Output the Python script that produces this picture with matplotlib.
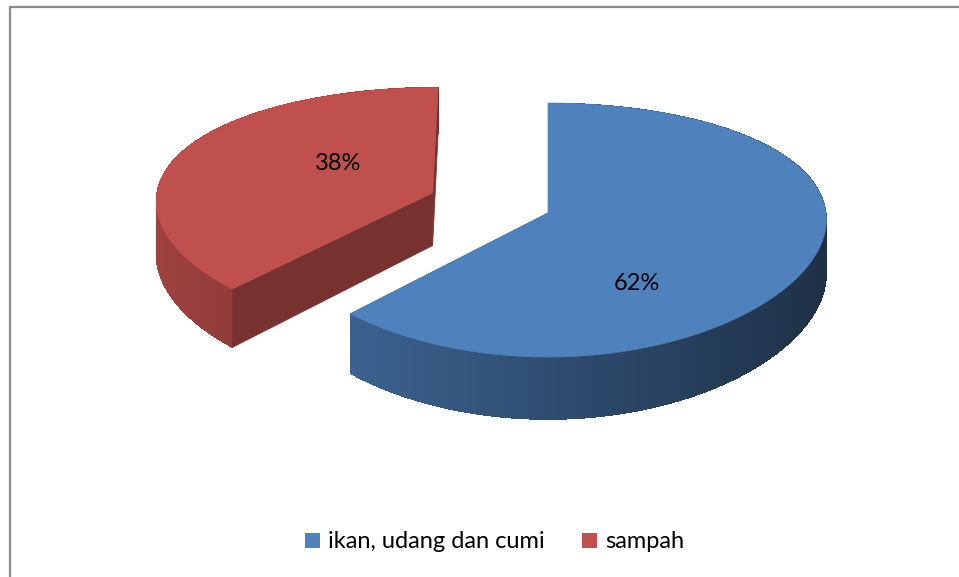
import numpy as np
import matplotlib.pyplot as plt
from matplotlib.patches import Polygon, Patch, Rectangle
from matplotlib.collections import PolyCollection
from matplotlib.colors import to_rgb

plt.rcParams['font.family'] = ['Lato', 'DejaVu Sans']

# data
labels = ['ikan, udang dan cumi', 'sampah']
values = [62, 38]
pct_text = ['62%', '38%']
colors = ['#4F81BD', '#C0504D']
explode = [0.0, 0.45]

W, H = 959, 577
fig = plt.figure(figsize=(W / 100, H / 100), dpi=100)
ax = fig.add_axes([0, 0, 1, 1])
ax.set_xlim(0, W)
ax.set_ylim(H, 0)
ax.axis('off')

# tilted disc with a little perspective
cx, cy = 548, 213
rx, ry = 278, 124.7
ky, kx = 0.134, 0.05
depth = 54
cam = np.array([0.0, -7.5])


def proj(X, Y, z=0.0):
    X = np.asarray(X, float)
    Y = np.asarray(Y, float)
    fx = 1 / (1 + kx * Y)
    fy = 1 / (1 + ky * Y)
    return np.column_stack([cx + rx * X * fx, cy - ry * Y * fy + z * depth * fy])


def shade(c, f):
    return tuple(np.clip(np.array(to_rgb(c)) * f, 0, 1))


def side_factor(t):
    return 0.6 + 0.23 * np.cos(t - np.pi)


total = float(sum(values))
start = 90.0
slices = []
for v in values:
    a2 = start
    a1 = start - v / total * 360
    slices.append((np.radians(a1), np.radians(a2)))
    start = a1

# back slice (exploded one) first
order = [1, 0]
for i in order:
    a1, a2 = slices[i]
    mid = (a1 + a2) / 2
    ex, ey = explode[i] * np.cos(mid), explode[i] * np.sin(mid)
    col = colors[i]
    t = np.linspace(a1, a2, 240)
    X = ex + np.cos(t)
    Y = ey + np.sin(t)
    top = proj(X, Y)
    bot = proj(X, Y, 1)
    vtop = proj([ex], [ey])[0]
    vbot = proj([ex], [ey], 1)[0]

    # cut faces
    faces = []
    for ang, nang, k in [(a1, a1 - np.pi / 2, 0), (a2, a2 + np.pi / 2, -1)]:
        n = np.array([np.cos(nang), np.sin(nang)])
        p = np.array([ex + 0.5 * np.cos(ang), ey + 0.5 * np.sin(ang)])
        vis = n @ (cam - p) > 0
        quad = np.array([vtop, top[k], bot[k], vbot])
        faces.append((vis, quad))
    for vis, quad in faces:
        if not vis:
            ax.add_patch(Polygon(quad, closed=True, fc=shade(col, 0.62),
                                 ec=shade(col, 0.62), lw=0.5))

    # outer wall: smooth outline first, then shaded strips without AA
    tm = (t[:-1] + t[1:]) / 2
    ax.add_patch(Polygon(np.vstack([top, bot[::-1]]), closed=True,
                         fc=shade(col, side_factor(tm).mean()), ec='none'))
    strips = [np.array([top[j], top[j + 1], bot[j + 1], bot[j]]) for j in range(len(t) - 1)]
    ax.add_collection(PolyCollection(strips, facecolors=[shade(col, side_factor(a)) for a in tm],
                                     edgecolors='none', antialiaseds=False))

    for vis, quad in faces:
        if vis:
            ax.add_patch(Polygon(quad, closed=True, fc=shade(col, 0.62),
                                 ec=shade(col, 0.62), lw=0.5))

    # top face
    ax.add_patch(Polygon(np.vstack([vtop, top]), closed=True, fc=col, ec=col, lw=0.5))

# percentage labels
label_xy = [(637, 284), (338, 163)]
for (lx, ly), s in zip(label_xy, pct_text):
    ax.text(lx, ly, s, ha='center', va='center', fontsize=17, color='black')

# legend
handles = [Patch(fc=c, ec='none') for c in colors]
fig.legend(handles, labels, loc='center', bbox_to_anchor=(0.516, 1 - 542 / H),
           ncol=2, frameon=False, fontsize=17, handlelength=0.62, handleheight=0.62,
           handletextpad=0.35, columnspacing=1.6)

# chart border (left and top edges visible)
fig.patches.append(Rectangle((9.5 / W, -0.5), 2, 1.5 - 6.5 / H,
                             transform=fig.transFigure, fill=False,
                             ec='#8a8a8a', lw=1.6))

fig.savefig('out.png', dpi=100)
